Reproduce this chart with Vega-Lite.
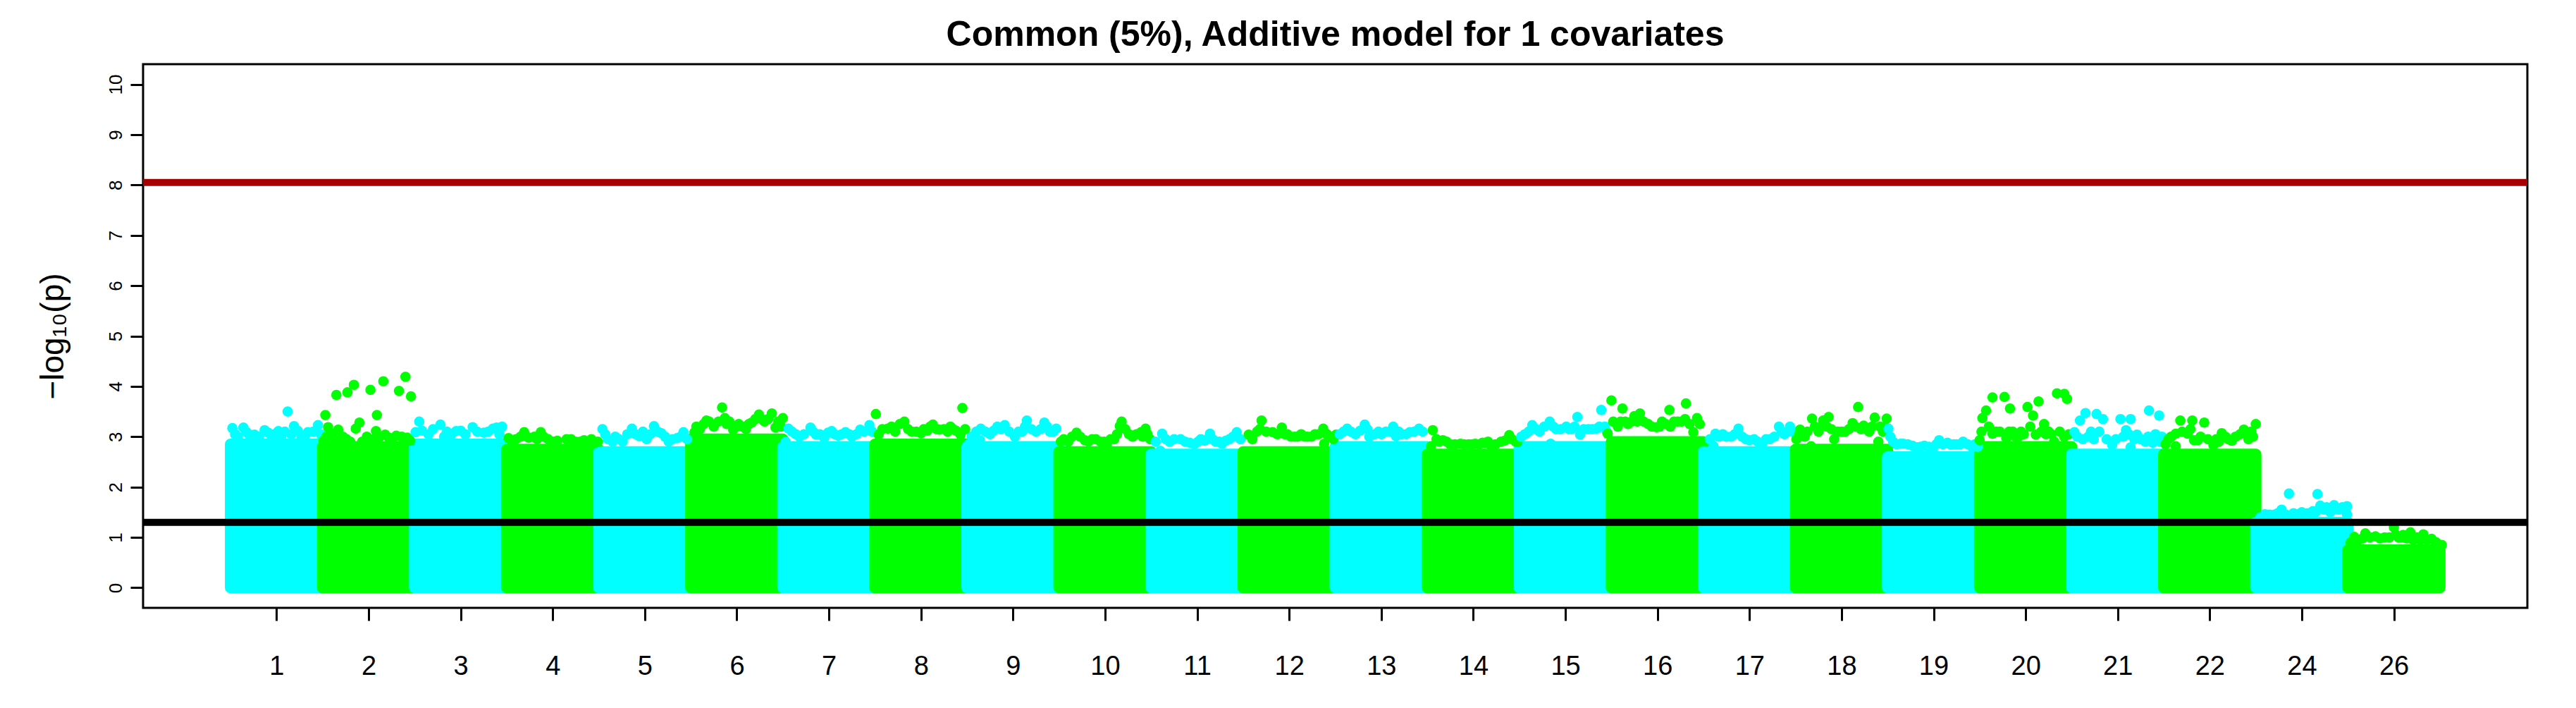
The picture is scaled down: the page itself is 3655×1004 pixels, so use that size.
{
"$schema": "https://vega.github.io/schema/vega-lite/v6.json",
"width": 3383, "height": 771,
"autosize": {"type": "none"},
"padding": {"left": 203, "top": 91, "right": 69, "bottom": 142},
"background": "white",
"config": {"view": {"stroke": "black", "strokeWidth": 3}, "font": "Liberation Sans"},
"title": {"text": "Common (5%), Additive model for 1 covariates", "fontSize": 50, "fontWeight": "bold", "font": "Liberation Sans", "color": "black", "anchor": "middle", "baseline": "alphabetic", "offset": -24},
"datasets": {
"blocks": [
{"chrom":"1","start":0.5,"end":1.5,"top":2.85,"floor":0},
{"chrom":"2","start":1.5,"end":2.5,"top":2.8,"floor":0},
{"chrom":"3","start":2.5,"end":3.5,"top":2.85,"floor":0},
{"chrom":"4","start":3.5,"end":4.5,"top":2.75,"floor":0},
{"chrom":"5","start":4.5,"end":5.5,"top":2.7,"floor":0},
{"chrom":"6","start":5.5,"end":6.5,"top":2.95,"floor":0},
{"chrom":"7","start":6.5,"end":7.5,"top":2.8,"floor":0},
{"chrom":"8","start":7.5,"end":8.5,"top":2.85,"floor":0},
{"chrom":"9","start":8.5,"end":9.5,"top":2.8,"floor":0},
{"chrom":"10","start":9.5,"end":10.5,"top":2.7,"floor":0},
{"chrom":"11","start":10.5,"end":11.5,"top":2.65,"floor":0},
{"chrom":"12","start":11.5,"end":12.5,"top":2.7,"floor":0},
{"chrom":"13","start":12.5,"end":13.5,"top":2.8,"floor":0},
{"chrom":"14","start":13.5,"end":14.5,"top":2.65,"floor":0},
{"chrom":"15","start":14.5,"end":15.5,"top":2.8,"floor":0},
{"chrom":"16","start":15.5,"end":16.5,"top":2.9,"floor":0},
{"chrom":"17","start":16.5,"end":17.5,"top":2.7,"floor":0},
{"chrom":"18","start":17.5,"end":18.5,"top":2.75,"floor":0},
{"chrom":"19","start":18.5,"end":19.5,"top":2.6,"floor":0},
{"chrom":"20","start":19.5,"end":20.5,"top":2.8,"floor":0},
{"chrom":"21","start":20.5,"end":21.5,"top":2.65,"floor":0},
{"chrom":"22","start":21.5,"end":22.5,"top":2.65,"floor":0},
{"chrom":"24","start":22.5,"end":23.5,"top":1.3,"floor":0},
{"chrom":"26","start":23.5,"end":24.5,"top":0.75,"floor":0}
],
"snps": [
{"chrom":"1","pos":0.52,"logp":3.17},{"chrom":"1","pos":0.58,"logp":3.0},{"chrom":"1","pos":0.64,"logp":3.18},{"chrom":"1","pos":0.70,"logp":3.05},{"chrom":"1","pos":0.76,"logp":3.04},{"chrom":"1","pos":0.87,"logp":3.13},{"chrom":"1","pos":0.95,"logp":2.98},{"chrom":"1","pos":1.02,"logp":3.11},{"chrom":"1","pos":1.05,"logp":3.0},{"chrom":"1","pos":1.12,"logp":3.50},{"chrom":"1","pos":1.19,"logp":3.21},{"chrom":"1","pos":1.27,"logp":3.0},{"chrom":"1","pos":1.34,"logp":3.09},{"chrom":"1","pos":1.45,"logp":3.23},
{"chrom":"1","pos":0.55,"logp":3.05},{"chrom":"1","pos":0.67,"logp":3.1},{"chrom":"1","pos":0.81,"logp":3.0},{"chrom":"1","pos":0.91,"logp":3.08},{"chrom":"1","pos":0.99,"logp":3.06},{"chrom":"1","pos":1.09,"logp":3.1},{"chrom":"1","pos":1.16,"logp":3.05},{"chrom":"1","pos":1.23,"logp":3.12},{"chrom":"1","pos":1.31,"logp":3.02},{"chrom":"1","pos":1.40,"logp":3.1},{"chrom":"1","pos":1.48,"logp":3.05},
{"chrom":"2","pos":1.65,"logp":3.83},{"chrom":"2","pos":1.77,"logp":3.88},{"chrom":"2","pos":1.84,"logp":4.03},{"chrom":"2","pos":2.02,"logp":3.93},{"chrom":"2","pos":2.16,"logp":4.10},{"chrom":"2","pos":2.40,"logp":4.19},{"chrom":"2","pos":2.33,"logp":3.91},{"chrom":"2","pos":2.46,"logp":3.80},{"chrom":"2","pos":1.53,"logp":3.43},{"chrom":"2","pos":2.09,"logp":3.43},{"chrom":"2","pos":1.90,"logp":3.28},{"chrom":"2","pos":1.86,"logp":3.16},{"chrom":"2","pos":1.56,"logp":3.19},{"chrom":"2","pos":1.67,"logp":3.14},{"chrom":"2","pos":1.59,"logp":3.07},{"chrom":"2","pos":2.08,"logp":3.11},{"chrom":"2","pos":2.18,"logp":3.04},{"chrom":"2","pos":2.36,"logp":3.00},{"chrom":"2","pos":1.80,"logp":2.90},{"chrom":"2","pos":1.93,"logp":2.90},{"chrom":"2","pos":1.68,"logp":2.90},{"chrom":"2","pos":2.25,"logp":2.95},{"chrom":"2","pos":2.45,"logp":2.92},{"chrom":"2","pos":1.51,"logp":2.92},
{"chrom":"2","pos":1.54,"logp":3.0},{"chrom":"2","pos":1.62,"logp":2.98},{"chrom":"2","pos":1.72,"logp":3.0},{"chrom":"2","pos":1.76,"logp":2.95},{"chrom":"2","pos":1.98,"logp":3.0},{"chrom":"2","pos":2.05,"logp":2.95},{"chrom":"2","pos":2.12,"logp":3.0},{"chrom":"2","pos":2.22,"logp":2.98},{"chrom":"2","pos":2.30,"logp":3.02},{"chrom":"2","pos":2.42,"logp":2.98},
{"chrom":"3","pos":2.55,"logp":3.30},{"chrom":"3","pos":2.78,"logp":3.24},{"chrom":"3","pos":2.95,"logp":3.11},{"chrom":"3","pos":3.13,"logp":3.19},{"chrom":"3","pos":3.35,"logp":3.16},{"chrom":"3","pos":2.51,"logp":3.09},{"chrom":"3","pos":3.39,"logp":3.18},{"chrom":"3","pos":2.65,"logp":3.05},{"chrom":"3","pos":3.05,"logp":3.05},{"chrom":"3","pos":3.25,"logp":3.08},{"chrom":"3","pos":3.45,"logp":3.20},
{"chrom":"3","pos":2.58,"logp":3.12},{"chrom":"3","pos":2.70,"logp":3.15},{"chrom":"3","pos":2.85,"logp":3.1},{"chrom":"3","pos":2.90,"logp":3.05},{"chrom":"3","pos":3.00,"logp":3.12},{"chrom":"3","pos":3.18,"logp":3.1},{"chrom":"3","pos":3.30,"logp":3.1},{"chrom":"3","pos":3.42,"logp":3.05},{"chrom":"3","pos":2.82,"logp":3.0},
{"chrom":"4","pos":3.52,"logp":2.97},{"chrom":"4","pos":3.69,"logp":3.09},{"chrom":"4","pos":3.87,"logp":3.09},{"chrom":"4","pos":4.01,"logp":2.90},{"chrom":"4","pos":4.15,"logp":2.95},{"chrom":"4","pos":4.34,"logp":2.93},{"chrom":"4","pos":4.49,"logp":2.90},{"chrom":"4","pos":3.80,"logp":3.00},{"chrom":"4","pos":3.60,"logp":2.95},{"chrom":"4","pos":3.95,"logp":2.95},{"chrom":"4","pos":4.25,"logp":2.90},{"chrom":"4","pos":4.42,"logp":2.95},
{"chrom":"4","pos":3.56,"logp":2.92},{"chrom":"4","pos":3.65,"logp":3.0},{"chrom":"4","pos":3.74,"logp":2.98},{"chrom":"4","pos":3.90,"logp":3.0},{"chrom":"4","pos":4.05,"logp":2.92},{"chrom":"4","pos":4.20,"logp":2.95},{"chrom":"4","pos":4.30,"logp":2.9},{"chrom":"4","pos":4.38,"logp":2.9},{"chrom":"4","pos":4.46,"logp":2.88},{"chrom":"4","pos":3.83,"logp":2.95},
{"chrom":"5","pos":4.54,"logp":3.15},{"chrom":"5","pos":4.68,"logp":3.00},{"chrom":"5","pos":4.86,"logp":3.16},{"chrom":"5","pos":4.94,"logp":3.01},{"chrom":"5","pos":5.10,"logp":3.21},{"chrom":"5","pos":5.18,"logp":3.07},{"chrom":"5","pos":5.35,"logp":2.97},{"chrom":"5","pos":5.42,"logp":3.09},{"chrom":"5","pos":4.76,"logp":2.90},{"chrom":"5","pos":5.02,"logp":2.95},{"chrom":"5","pos":5.26,"logp":2.90},{"chrom":"5","pos":4.60,"logp":2.95},
{"chrom":"5","pos":4.57,"logp":3.05},{"chrom":"5","pos":4.65,"logp":2.9},{"chrom":"5","pos":4.72,"logp":2.95},{"chrom":"5","pos":4.81,"logp":3.05},{"chrom":"5","pos":4.90,"logp":3.05},{"chrom":"5","pos":4.98,"logp":3.1},{"chrom":"5","pos":5.06,"logp":3.05},{"chrom":"5","pos":5.14,"logp":3.1},{"chrom":"5","pos":5.22,"logp":3.0},{"chrom":"5","pos":5.30,"logp":2.95},{"chrom":"5","pos":5.39,"logp":3.0},{"chrom":"5","pos":5.46,"logp":2.95},
{"chrom":"6","pos":5.54,"logp":3.09},{"chrom":"6","pos":5.67,"logp":3.32},{"chrom":"6","pos":5.84,"logp":3.58},{"chrom":"6","pos":5.87,"logp":3.37},{"chrom":"6","pos":6.02,"logp":3.25},{"chrom":"6","pos":6.24,"logp":3.44},{"chrom":"6","pos":6.38,"logp":3.46},{"chrom":"6","pos":6.50,"logp":3.37},{"chrom":"6","pos":6.16,"logp":3.28},{"chrom":"6","pos":5.96,"logp":3.14},{"chrom":"6","pos":6.42,"logp":3.18},{"chrom":"6","pos":5.60,"logp":3.15},{"chrom":"6","pos":5.75,"logp":3.20},{"chrom":"6","pos":6.10,"logp":3.15},{"chrom":"6","pos":6.30,"logp":3.30},{"chrom":"6","pos":5.92,"logp":3.30},
{"chrom":"6","pos":5.56,"logp":3.2},{"chrom":"6","pos":5.64,"logp":3.25},{"chrom":"6","pos":5.70,"logp":3.3},{"chrom":"6","pos":5.80,"logp":3.3},{"chrom":"6","pos":5.89,"logp":3.25},{"chrom":"6","pos":6.00,"logp":3.2},{"chrom":"6","pos":6.06,"logp":3.2},{"chrom":"6","pos":6.13,"logp":3.25},{"chrom":"6","pos":6.20,"logp":3.35},{"chrom":"6","pos":6.27,"logp":3.35},{"chrom":"6","pos":6.34,"logp":3.35},{"chrom":"6","pos":6.45,"logp":3.3},{"chrom":"6","pos":6.48,"logp":3.2},
{"chrom":"7","pos":6.56,"logp":3.16},{"chrom":"7","pos":6.80,"logp":3.18},{"chrom":"7","pos":7.03,"logp":3.11},{"chrom":"7","pos":7.18,"logp":3.09},{"chrom":"7","pos":7.34,"logp":3.14},{"chrom":"7","pos":7.44,"logp":3.23},{"chrom":"7","pos":6.53,"logp":2.90},{"chrom":"7","pos":6.86,"logp":3.04},{"chrom":"7","pos":6.68,"logp":3.00},{"chrom":"7","pos":6.95,"logp":2.98},{"chrom":"7","pos":7.25,"logp":3.00},{"chrom":"7","pos":7.10,"logp":3.02},
{"chrom":"7","pos":6.60,"logp":3.1},{"chrom":"7","pos":6.64,"logp":3.05},{"chrom":"7","pos":6.73,"logp":3.05},{"chrom":"7","pos":6.83,"logp":3.1},{"chrom":"7","pos":6.90,"logp":3.05},{"chrom":"7","pos":6.99,"logp":3.08},{"chrom":"7","pos":7.06,"logp":3.05},{"chrom":"7","pos":7.14,"logp":3.05},{"chrom":"7","pos":7.22,"logp":3.05},{"chrom":"7","pos":7.30,"logp":3.05},{"chrom":"7","pos":7.38,"logp":3.1},{"chrom":"7","pos":7.47,"logp":3.1},
{"chrom":"8","pos":7.51,"logp":3.45},{"chrom":"8","pos":7.54,"logp":3.04},{"chrom":"8","pos":7.64,"logp":3.16},{"chrom":"8","pos":7.82,"logp":3.30},{"chrom":"8","pos":8.00,"logp":3.07},{"chrom":"8","pos":8.13,"logp":3.24},{"chrom":"8","pos":8.32,"logp":3.20},{"chrom":"8","pos":8.45,"logp":3.57},{"chrom":"8","pos":8.43,"logp":3.04},{"chrom":"8","pos":8.20,"logp":3.14},{"chrom":"8","pos":7.72,"logp":3.10},{"chrom":"8","pos":7.90,"logp":3.10},{"chrom":"8","pos":8.07,"logp":3.12},{"chrom":"8","pos":8.38,"logp":3.12},
{"chrom":"8","pos":7.58,"logp":3.15},{"chrom":"8","pos":7.68,"logp":3.2},{"chrom":"8","pos":7.77,"logp":3.25},{"chrom":"8","pos":7.86,"logp":3.15},{"chrom":"8","pos":7.95,"logp":3.1},{"chrom":"8","pos":8.03,"logp":3.15},{"chrom":"8","pos":8.10,"logp":3.2},{"chrom":"8","pos":8.17,"logp":3.15},{"chrom":"8","pos":8.25,"logp":3.15},{"chrom":"8","pos":8.29,"logp":3.1},{"chrom":"8","pos":8.35,"logp":3.15},{"chrom":"8","pos":8.48,"logp":3.15},
{"chrom":"9","pos":8.51,"logp":2.84},{"chrom":"9","pos":8.65,"logp":3.16},{"chrom":"9","pos":8.83,"logp":3.20},{"chrom":"9","pos":8.91,"logp":3.23},{"chrom":"9","pos":9.02,"logp":3.00},{"chrom":"9","pos":9.15,"logp":3.32},{"chrom":"9","pos":9.34,"logp":3.28},{"chrom":"9","pos":9.47,"logp":3.16},{"chrom":"9","pos":8.64,"logp":2.93},{"chrom":"9","pos":8.75,"logp":3.05},{"chrom":"9","pos":9.10,"logp":3.10},{"chrom":"9","pos":9.25,"logp":3.10},{"chrom":"9","pos":9.40,"logp":3.10},
{"chrom":"9","pos":8.55,"logp":3.0},{"chrom":"9","pos":8.60,"logp":3.1},{"chrom":"9","pos":8.70,"logp":3.1},{"chrom":"9","pos":8.79,"logp":3.12},{"chrom":"9","pos":8.87,"logp":3.15},{"chrom":"9","pos":8.96,"logp":3.1},{"chrom":"9","pos":9.06,"logp":3.1},{"chrom":"9","pos":9.13,"logp":3.2},{"chrom":"9","pos":9.20,"logp":3.15},{"chrom":"9","pos":9.30,"logp":3.15},{"chrom":"9","pos":9.37,"logp":3.2},{"chrom":"9","pos":9.44,"logp":3.1},
{"chrom":"10","pos":9.52,"logp":2.90},{"chrom":"10","pos":9.69,"logp":3.08},{"chrom":"10","pos":9.86,"logp":2.95},{"chrom":"10","pos":10.18,"logp":3.30},{"chrom":"10","pos":10.16,"logp":3.21},{"chrom":"10","pos":10.39,"logp":3.09},{"chrom":"10","pos":10.44,"logp":3.16},{"chrom":"10","pos":10.49,"logp":2.95},{"chrom":"10","pos":10.02,"logp":2.86},{"chrom":"10","pos":9.60,"logp":2.90},{"chrom":"10","pos":9.78,"logp":2.93},{"chrom":"10","pos":9.95,"logp":2.90},{"chrom":"10","pos":10.10,"logp":2.95},{"chrom":"10","pos":10.30,"logp":3.00},
{"chrom":"10","pos":9.55,"logp":2.95},{"chrom":"10","pos":9.64,"logp":3.0},{"chrom":"10","pos":9.73,"logp":3.0},{"chrom":"10","pos":9.82,"logp":2.9},{"chrom":"10","pos":9.90,"logp":2.95},{"chrom":"10","pos":9.99,"logp":2.9},{"chrom":"10","pos":10.06,"logp":2.95},{"chrom":"10","pos":10.13,"logp":3.05},{"chrom":"10","pos":10.22,"logp":3.15},{"chrom":"10","pos":10.26,"logp":3.05},{"chrom":"10","pos":10.34,"logp":3.05},{"chrom":"10","pos":10.41,"logp":3.0},{"chrom":"10","pos":10.46,"logp":3.05},
{"chrom":"11","pos":10.62,"logp":3.06},{"chrom":"11","pos":10.82,"logp":2.95},{"chrom":"11","pos":11.01,"logp":2.90},{"chrom":"11","pos":11.14,"logp":3.06},{"chrom":"11","pos":11.43,"logp":3.09},{"chrom":"11","pos":11.27,"logp":2.86},{"chrom":"11","pos":10.60,"logp":2.72},{"chrom":"11","pos":10.70,"logp":2.90},{"chrom":"11","pos":10.92,"logp":2.88},{"chrom":"11","pos":11.08,"logp":2.92},{"chrom":"11","pos":11.35,"logp":2.95},{"chrom":"11","pos":11.20,"logp":2.90},
{"chrom":"11","pos":10.55,"logp":2.9},{"chrom":"11","pos":10.66,"logp":2.95},{"chrom":"11","pos":10.75,"logp":2.95},{"chrom":"11","pos":10.87,"logp":2.9},{"chrom":"11","pos":10.97,"logp":2.85},{"chrom":"11","pos":11.04,"logp":2.95},{"chrom":"11","pos":11.11,"logp":2.95},{"chrom":"11","pos":11.17,"logp":2.95},{"chrom":"11","pos":11.24,"logp":2.9},{"chrom":"11","pos":11.31,"logp":2.92},{"chrom":"11","pos":11.39,"logp":3.0},{"chrom":"11","pos":11.47,"logp":2.95},
{"chrom":"12","pos":11.56,"logp":3.04},{"chrom":"12","pos":11.70,"logp":3.32},{"chrom":"12","pos":11.82,"logp":3.09},{"chrom":"12","pos":11.92,"logp":3.18},{"chrom":"12","pos":12.06,"logp":3.00},{"chrom":"12","pos":12.20,"logp":3.00},{"chrom":"12","pos":12.37,"logp":3.16},{"chrom":"12","pos":12.51,"logp":3.04},{"chrom":"12","pos":11.55,"logp":2.67},{"chrom":"12","pos":12.38,"logp":2.86},{"chrom":"12","pos":11.65,"logp":3.10},{"chrom":"12","pos":11.98,"logp":3.05},{"chrom":"12","pos":12.13,"logp":3.05},{"chrom":"12","pos":12.28,"logp":3.05},{"chrom":"12","pos":12.45,"logp":3.00},
{"chrom":"12","pos":11.60,"logp":2.95},{"chrom":"12","pos":11.68,"logp":3.15},{"chrom":"12","pos":11.75,"logp":3.1},{"chrom":"12","pos":11.87,"logp":3.05},{"chrom":"12","pos":11.95,"logp":3.05},{"chrom":"12","pos":12.02,"logp":3.0},{"chrom":"12","pos":12.09,"logp":3.0},{"chrom":"12","pos":12.17,"logp":3.0},{"chrom":"12","pos":12.24,"logp":3.0},{"chrom":"12","pos":12.32,"logp":3.05},{"chrom":"12","pos":12.41,"logp":3.05},{"chrom":"12","pos":12.48,"logp":2.95},
{"chrom":"13","pos":12.63,"logp":3.16},{"chrom":"13","pos":12.82,"logp":3.24},{"chrom":"13","pos":13.13,"logp":3.20},{"chrom":"13","pos":13.16,"logp":3.01},{"chrom":"13","pos":13.31,"logp":3.09},{"chrom":"13","pos":13.41,"logp":3.16},{"chrom":"13","pos":12.87,"logp":3.00},{"chrom":"13","pos":12.72,"logp":3.05},{"chrom":"13","pos":13.00,"logp":3.05},{"chrom":"13","pos":13.22,"logp":3.05},{"chrom":"13","pos":12.55,"logp":3.05},
{"chrom":"13","pos":12.59,"logp":3.1},{"chrom":"13","pos":12.67,"logp":3.1},{"chrom":"13","pos":12.77,"logp":3.12},{"chrom":"13","pos":12.85,"logp":3.15},{"chrom":"13","pos":12.93,"logp":3.05},{"chrom":"13","pos":12.97,"logp":3.1},{"chrom":"13","pos":13.05,"logp":3.1},{"chrom":"13","pos":13.10,"logp":3.1},{"chrom":"13","pos":13.19,"logp":3.1},{"chrom":"13","pos":13.27,"logp":3.05},{"chrom":"13","pos":13.36,"logp":3.1},{"chrom":"13","pos":13.45,"logp":3.1},
{"chrom":"14","pos":13.56,"logp":3.13},{"chrom":"14","pos":13.67,"logp":2.93},{"chrom":"14","pos":13.86,"logp":2.86},{"chrom":"14","pos":14.02,"logp":2.86},{"chrom":"14","pos":14.16,"logp":2.90},{"chrom":"14","pos":14.39,"logp":3.03},{"chrom":"14","pos":13.54,"logp":2.81},{"chrom":"14","pos":14.20,"logp":2.79},{"chrom":"14","pos":13.75,"logp":2.85},{"chrom":"14","pos":13.95,"logp":2.85},{"chrom":"14","pos":14.10,"logp":2.88},{"chrom":"14","pos":14.30,"logp":2.90},{"chrom":"14","pos":14.46,"logp":2.90},
{"chrom":"14","pos":13.60,"logp":2.95},{"chrom":"14","pos":13.63,"logp":2.9},{"chrom":"14","pos":13.71,"logp":2.9},{"chrom":"14","pos":13.80,"logp":2.85},{"chrom":"14","pos":13.90,"logp":2.85},{"chrom":"14","pos":13.99,"logp":2.85},{"chrom":"14","pos":14.06,"logp":2.85},{"chrom":"14","pos":14.13,"logp":2.88},{"chrom":"14","pos":14.24,"logp":2.85},{"chrom":"14","pos":14.34,"logp":2.92},{"chrom":"14","pos":14.42,"logp":2.95},{"chrom":"14","pos":14.48,"logp":2.9},
{"chrom":"15","pos":14.52,"logp":3.00},{"chrom":"15","pos":14.64,"logp":3.23},{"chrom":"15","pos":14.83,"logp":3.30},{"chrom":"15","pos":15.01,"logp":3.20},{"chrom":"15","pos":15.13,"logp":3.39},{"chrom":"15","pos":15.39,"logp":3.53},{"chrom":"15","pos":15.34,"logp":3.16},{"chrom":"15","pos":15.16,"logp":3.04},{"chrom":"15","pos":14.84,"logp":2.86},{"chrom":"15","pos":14.72,"logp":3.10},{"chrom":"15","pos":14.90,"logp":3.15},{"chrom":"15","pos":15.07,"logp":3.15},{"chrom":"15","pos":15.25,"logp":3.15},{"chrom":"15","pos":15.45,"logp":3.10},
{"chrom":"15","pos":14.56,"logp":3.05},{"chrom":"15","pos":14.60,"logp":3.1},{"chrom":"15","pos":14.68,"logp":3.15},{"chrom":"15","pos":14.77,"logp":3.2},{"chrom":"15","pos":14.87,"logp":3.2},{"chrom":"15","pos":14.95,"logp":3.15},{"chrom":"15","pos":15.04,"logp":3.15},{"chrom":"15","pos":15.10,"logp":3.2},{"chrom":"15","pos":15.20,"logp":3.15},{"chrom":"15","pos":15.29,"logp":3.15},{"chrom":"15","pos":15.37,"logp":3.2},{"chrom":"15","pos":15.43,"logp":3.2},
{"chrom":"16","pos":15.50,"logp":3.72},{"chrom":"16","pos":15.62,"logp":3.56},{"chrom":"16","pos":15.57,"logp":3.20},{"chrom":"16","pos":15.46,"logp":3.06},{"chrom":"16","pos":15.75,"logp":3.41},{"chrom":"16","pos":15.81,"logp":3.46},{"chrom":"16","pos":16.13,"logp":3.53},{"chrom":"16","pos":16.31,"logp":3.66},{"chrom":"16","pos":16.43,"logp":3.37},{"chrom":"16","pos":16.30,"logp":3.35},{"chrom":"16","pos":15.99,"logp":3.19},{"chrom":"16","pos":16.14,"logp":3.20},{"chrom":"16","pos":16.39,"logp":3.09},{"chrom":"16","pos":15.90,"logp":3.25},{"chrom":"16","pos":16.05,"logp":3.30},{"chrom":"16","pos":16.22,"logp":3.30},{"chrom":"16","pos":15.68,"logp":3.25},
{"chrom":"16","pos":15.52,"logp":3.3},{"chrom":"16","pos":15.60,"logp":3.3},{"chrom":"16","pos":15.65,"logp":3.3},{"chrom":"16","pos":15.72,"logp":3.3},{"chrom":"16","pos":15.78,"logp":3.3},{"chrom":"16","pos":15.85,"logp":3.3},{"chrom":"16","pos":15.94,"logp":3.2},{"chrom":"16","pos":16.02,"logp":3.2},{"chrom":"16","pos":16.09,"logp":3.25},{"chrom":"16","pos":16.18,"logp":3.3},{"chrom":"16","pos":16.26,"logp":3.3},{"chrom":"16","pos":16.35,"logp":3.25},{"chrom":"16","pos":16.46,"logp":3.25},
{"chrom":"17","pos":16.63,"logp":3.06},{"chrom":"17","pos":16.75,"logp":3.00},{"chrom":"17","pos":16.88,"logp":3.16},{"chrom":"17","pos":17.00,"logp":2.93},{"chrom":"17","pos":17.14,"logp":2.86},{"chrom":"17","pos":17.32,"logp":3.20},{"chrom":"17","pos":17.44,"logp":3.20},{"chrom":"17","pos":16.61,"logp":2.81},{"chrom":"17","pos":16.80,"logp":3.00},{"chrom":"17","pos":17.05,"logp":2.95},{"chrom":"17","pos":17.22,"logp":2.95},{"chrom":"17","pos":17.38,"logp":3.05},
{"chrom":"17","pos":16.57,"logp":2.95},{"chrom":"17","pos":16.67,"logp":3.0},{"chrom":"17","pos":16.71,"logp":3.05},{"chrom":"17","pos":16.84,"logp":3.05},{"chrom":"17","pos":16.92,"logp":3.0},{"chrom":"17","pos":16.96,"logp":2.95},{"chrom":"17","pos":17.09,"logp":2.9},{"chrom":"17","pos":17.18,"logp":2.95},{"chrom":"17","pos":17.27,"logp":3.0},{"chrom":"17","pos":17.35,"logp":3.1},{"chrom":"17","pos":17.41,"logp":3.1},{"chrom":"17","pos":17.47,"logp":3.1},
{"chrom":"18","pos":17.55,"logp":3.14},{"chrom":"18","pos":17.51,"logp":2.95},{"chrom":"18","pos":17.68,"logp":3.36},{"chrom":"18","pos":17.80,"logp":3.32},{"chrom":"18","pos":17.86,"logp":3.39},{"chrom":"18","pos":18.18,"logp":3.59},{"chrom":"18","pos":18.12,"logp":3.27},{"chrom":"18","pos":18.24,"logp":3.22},{"chrom":"18","pos":18.36,"logp":3.38},{"chrom":"18","pos":18.49,"logp":3.36},{"chrom":"18","pos":17.67,"logp":2.81},{"chrom":"18","pos":17.92,"logp":2.95},{"chrom":"18","pos":18.40,"logp":2.90},{"chrom":"18","pos":17.60,"logp":3.00},{"chrom":"18","pos":17.75,"logp":3.10},{"chrom":"18","pos":18.00,"logp":3.10},{"chrom":"18","pos":18.30,"logp":3.10},{"chrom":"18","pos":18.45,"logp":3.10},
{"chrom":"18","pos":17.54,"logp":3.05},{"chrom":"18","pos":17.63,"logp":3.1},{"chrom":"18","pos":17.71,"logp":3.2},{"chrom":"18","pos":17.78,"logp":3.2},{"chrom":"18","pos":17.84,"logp":3.2},{"chrom":"18","pos":17.89,"logp":3.15},{"chrom":"18","pos":17.96,"logp":3.1},{"chrom":"18","pos":18.04,"logp":3.1},{"chrom":"18","pos":18.08,"logp":3.15},{"chrom":"18","pos":18.15,"logp":3.2},{"chrom":"18","pos":18.21,"logp":3.15},{"chrom":"18","pos":18.27,"logp":3.15},{"chrom":"18","pos":18.33,"logp":3.2},{"chrom":"18","pos":18.42,"logp":3.2},{"chrom":"18","pos":18.47,"logp":3.2},
{"chrom":"19","pos":18.51,"logp":3.16},{"chrom":"19","pos":18.53,"logp":3.00},{"chrom":"19","pos":18.64,"logp":2.86},{"chrom":"19","pos":18.67,"logp":2.86},{"chrom":"19","pos":18.82,"logp":2.79},{"chrom":"19","pos":19.06,"logp":2.93},{"chrom":"19","pos":19.19,"logp":2.84},{"chrom":"19","pos":19.32,"logp":2.90},{"chrom":"19","pos":19.42,"logp":2.79},{"chrom":"19","pos":18.99,"logp":2.74},{"chrom":"19","pos":18.90,"logp":2.82},{"chrom":"19","pos":19.25,"logp":2.85},{"chrom":"19","pos":19.48,"logp":2.80},
{"chrom":"19","pos":18.56,"logp":2.9},{"chrom":"19","pos":18.60,"logp":2.85},{"chrom":"19","pos":18.72,"logp":2.85},{"chrom":"19","pos":18.77,"logp":2.82},{"chrom":"19","pos":18.86,"logp":2.8},{"chrom":"19","pos":18.95,"logp":2.8},{"chrom":"19","pos":19.03,"logp":2.85},{"chrom":"19","pos":19.10,"logp":2.85},{"chrom":"19","pos":19.15,"logp":2.88},{"chrom":"19","pos":19.22,"logp":2.85},{"chrom":"19","pos":19.29,"logp":2.85},{"chrom":"19","pos":19.37,"logp":2.85},{"chrom":"19","pos":19.45,"logp":2.85},
{"chrom":"20","pos":19.53,"logp":3.37},{"chrom":"20","pos":19.57,"logp":3.52},{"chrom":"20","pos":19.64,"logp":3.78},{"chrom":"20","pos":19.77,"logp":3.79},{"chrom":"20","pos":19.83,"logp":3.56},{"chrom":"20","pos":20.02,"logp":3.59},{"chrom":"20","pos":20.14,"logp":3.70},{"chrom":"20","pos":20.08,"logp":3.42},{"chrom":"20","pos":20.20,"logp":3.25},{"chrom":"20","pos":20.34,"logp":3.86},{"chrom":"20","pos":20.42,"logp":3.85},{"chrom":"20","pos":20.45,"logp":3.75},{"chrom":"20","pos":19.50,"logp":2.93},{"chrom":"20","pos":19.64,"logp":3.06},{"chrom":"20","pos":19.79,"logp":2.97},{"chrom":"20","pos":19.89,"logp":3.00},{"chrom":"20","pos":20.11,"logp":3.04},{"chrom":"20","pos":20.31,"logp":2.90},{"chrom":"20","pos":20.42,"logp":3.00},{"chrom":"20","pos":19.95,"logp":3.10},{"chrom":"20","pos":20.25,"logp":3.10},
{"chrom":"20","pos":19.52,"logp":3.1},{"chrom":"20","pos":19.60,"logp":3.2},{"chrom":"20","pos":19.68,"logp":3.1},{"chrom":"20","pos":19.72,"logp":3.1},{"chrom":"20","pos":19.82,"logp":3.1},{"chrom":"20","pos":19.86,"logp":3.1},{"chrom":"20","pos":19.92,"logp":3.0},{"chrom":"20","pos":19.98,"logp":3.05},{"chrom":"20","pos":20.05,"logp":3.2},{"chrom":"20","pos":20.17,"logp":3.1},{"chrom":"20","pos":20.22,"logp":3.05},{"chrom":"20","pos":20.28,"logp":3.05},{"chrom":"20","pos":20.37,"logp":3.1},{"chrom":"20","pos":20.47,"logp":3.05},
{"chrom":"21","pos":20.53,"logp":3.09},{"chrom":"21","pos":20.59,"logp":3.32},{"chrom":"21","pos":20.65,"logp":3.47},{"chrom":"21","pos":20.77,"logp":3.45},{"chrom":"21","pos":20.84,"logp":3.35},{"chrom":"21","pos":21.03,"logp":3.35},{"chrom":"21","pos":21.14,"logp":3.35},{"chrom":"21","pos":21.09,"logp":3.13},{"chrom":"21","pos":21.21,"logp":3.04},{"chrom":"21","pos":21.34,"logp":3.52},{"chrom":"21","pos":21.45,"logp":3.42},{"chrom":"21","pos":20.74,"logp":2.95},{"chrom":"21","pos":20.94,"logp":2.84},{"chrom":"21","pos":21.38,"logp":2.88},{"chrom":"21","pos":21.14,"logp":2.79},{"chrom":"21","pos":20.62,"logp":2.95},{"chrom":"21","pos":21.30,"logp":2.90},{"chrom":"21","pos":21.46,"logp":2.90},
{"chrom":"21","pos":20.56,"logp":3.0},{"chrom":"21","pos":20.68,"logp":3.0},{"chrom":"21","pos":20.71,"logp":3.1},{"chrom":"21","pos":20.80,"logp":3.1},{"chrom":"21","pos":20.88,"logp":2.95},{"chrom":"21","pos":20.98,"logp":2.95},{"chrom":"21","pos":21.06,"logp":3.0},{"chrom":"21","pos":21.12,"logp":3.05},{"chrom":"21","pos":21.18,"logp":2.95},{"chrom":"21","pos":21.25,"logp":2.95},{"chrom":"21","pos":21.33,"logp":3.0},{"chrom":"21","pos":21.41,"logp":3.05},{"chrom":"21","pos":21.48,"logp":3.0},
{"chrom":"22","pos":21.63,"logp":3.06},{"chrom":"22","pos":21.68,"logp":3.32},{"chrom":"22","pos":21.81,"logp":3.32},{"chrom":"22","pos":21.76,"logp":3.06},{"chrom":"22","pos":21.83,"logp":2.93},{"chrom":"22","pos":21.63,"logp":2.81},{"chrom":"22","pos":21.94,"logp":3.28},{"chrom":"22","pos":21.87,"logp":2.93},{"chrom":"22","pos":22.13,"logp":3.07},{"chrom":"22","pos":22.37,"logp":3.14},{"chrom":"22","pos":22.50,"logp":3.25},{"chrom":"22","pos":22.04,"logp":2.83},{"chrom":"22","pos":22.42,"logp":2.95},{"chrom":"22","pos":21.55,"logp":2.95},{"chrom":"22","pos":22.20,"logp":2.95},{"chrom":"22","pos":22.28,"logp":3.00},{"chrom":"22","pos":22.47,"logp":3.00},
{"chrom":"22","pos":21.52,"logp":2.85},{"chrom":"22","pos":21.58,"logp":3.0},{"chrom":"22","pos":21.70,"logp":3.1},{"chrom":"22","pos":21.79,"logp":3.15},{"chrom":"22","pos":21.90,"logp":3.0},{"chrom":"22","pos":21.98,"logp":2.95},{"chrom":"22","pos":22.07,"logp":2.95},{"chrom":"22","pos":22.10,"logp":2.9},{"chrom":"22","pos":22.17,"logp":3.0},{"chrom":"22","pos":22.24,"logp":2.92},{"chrom":"22","pos":22.33,"logp":3.05},{"chrom":"22","pos":22.40,"logp":3.05},{"chrom":"22","pos":22.45,"logp":3.1},
{"chrom":"24","pos":22.60,"logp":1.46},{"chrom":"24","pos":22.78,"logp":1.55},{"chrom":"24","pos":22.91,"logp":1.48},{"chrom":"24","pos":22.86,"logp":1.87},{"chrom":"24","pos":23.17,"logp":1.86},{"chrom":"24","pos":23.06,"logp":1.48},{"chrom":"24","pos":23.20,"logp":1.63},{"chrom":"24","pos":23.35,"logp":1.64},{"chrom":"24","pos":23.49,"logp":1.62},{"chrom":"24","pos":23.49,"logp":1.46},{"chrom":"24","pos":23.31,"logp":1.50},{"chrom":"24","pos":22.70,"logp":1.45},{"chrom":"24","pos":23.00,"logp":1.50},{"chrom":"24","pos":23.12,"logp":1.52},
{"chrom":"24","pos":22.55,"logp":1.4},{"chrom":"24","pos":22.65,"logp":1.45},{"chrom":"24","pos":22.74,"logp":1.48},{"chrom":"24","pos":22.83,"logp":1.45},{"chrom":"24","pos":22.96,"logp":1.46},{"chrom":"24","pos":23.03,"logp":1.45},{"chrom":"24","pos":23.09,"logp":1.45},{"chrom":"24","pos":23.15,"logp":1.5},{"chrom":"24","pos":23.24,"logp":1.55},{"chrom":"24","pos":23.27,"logp":1.6},{"chrom":"24","pos":23.40,"logp":1.55},{"chrom":"24","pos":23.44,"logp":1.6},
{"chrom":"26","pos":23.57,"logp":1.01},{"chrom":"26","pos":23.69,"logp":1.08},{"chrom":"26","pos":24.00,"logp":1.20},{"chrom":"26","pos":24.18,"logp":1.10},{"chrom":"26","pos":24.32,"logp":1.06},{"chrom":"26","pos":24.41,"logp":0.97},{"chrom":"26","pos":24.52,"logp":0.85},{"chrom":"26","pos":23.90,"logp":1.00},{"chrom":"26","pos":24.05,"logp":1.00},{"chrom":"26","pos":23.80,"logp":1.02},{"chrom":"26","pos":24.10,"logp":1.05},{"chrom":"26","pos":24.25,"logp":1.00},{"chrom":"26","pos":23.62,"logp":0.95},
{"chrom":"26","pos":23.53,"logp":0.9},{"chrom":"26","pos":23.60,"logp":0.95},{"chrom":"26","pos":23.66,"logp":0.98},{"chrom":"26","pos":23.74,"logp":1.0},{"chrom":"26","pos":23.85,"logp":0.98},{"chrom":"26","pos":23.95,"logp":1.0},{"chrom":"26","pos":24.02,"logp":1.05},{"chrom":"26","pos":24.08,"logp":1.0},{"chrom":"26","pos":24.14,"logp":0.98},{"chrom":"26","pos":24.21,"logp":0.95},{"chrom":"26","pos":24.29,"logp":0.95},{"chrom":"26","pos":24.36,"logp":0.95},{"chrom":"26","pos":24.46,"logp":0.9}
],
"thresholds": [{"name":"suggestive","logp":1.30},{"name":"genomewide","logp":8.05}]
},
"layer": [
{"data": {"name": "blocks"},
 "mark": {"type": "rect", "strokeWidth": 16, "strokeJoin": "round"},
 "encoding": {
  "x": {"field": "start", "type": "quantitative",
        "scale": {"domain": [-0.45, 25.45], "nice": false, "zero": false},
        "axis": {"values": [1,2,3,4,5,6,7,8,9,10,11,12,13,14,15,16,17,18,19,20,21,22,23,24], "format": "d",
                 "labelExpr": "datum.value == 23 ? '24' : (datum.value == 24 ? '26' : datum.label)",
                 "title": null, "domain": false, "grid": false, "tickSize": 18, "tickWidth": 3, "tickColor": "black",
                 "labelFontSize": 38, "labelColor": "black", "labelPadding": 46, "labelAngle": 0,
                 "labelOverlap": false, "labelFlush": false, "labelFont": "Liberation Sans"}},
  "x2": {"field": "end"},
  "y": {"field": "floor", "type": "quantitative",
        "scale": {"domain": [-0.4, 10.4], "nice": false, "zero": false},
        "axis": {"values": [0,1,2,3,4,5,6,7,8,9,10], "format": "d", "title": "−log₁₀(p)",
                 "domain": false, "grid": false, "tickSize": 18, "tickWidth": 3, "tickColor": "black",
                 "labelFontSize": 26, "labelColor": "black", "labelPadding": 8, "labelAngle": 270,
                 "labelAlign": "center", "labelBaseline": "bottom", "labelFont": "Liberation Sans",
                 "titleFontSize": 46, "titleFontWeight": "normal", "titleColor": "black", "titleFont": "Liberation Sans",
                 "titleAngle": 270, "titleX": -128, "titleY": 385.5, "titleAlign": "center", "titleBaseline": "middle"}},
  "y2": {"field": "top"},
  "fill": {"field": "chrom", "type": "nominal", "legend": null,
           "scale": {"domain": ["1","2","3","4","5","6","7","8","9","10","11","12","13","14","15","16","17","18","19","20","21","22","24","26"],
                     "range": ["#00ffff","#00ff00","#00ffff","#00ff00","#00ffff","#00ff00","#00ffff","#00ff00","#00ffff","#00ff00","#00ffff","#00ff00","#00ffff","#00ff00","#00ffff","#00ff00","#00ffff","#00ff00","#00ffff","#00ff00","#00ffff","#00ff00","#00ffff","#00ff00"]}},
  "stroke": {"field": "chrom", "type": "nominal", "legend": null,
           "scale": {"domain": ["1","2","3","4","5","6","7","8","9","10","11","12","13","14","15","16","17","18","19","20","21","22","24","26"],
                     "range": ["#00ffff","#00ff00","#00ffff","#00ff00","#00ffff","#00ff00","#00ffff","#00ff00","#00ffff","#00ff00","#00ffff","#00ff00","#00ffff","#00ff00","#00ffff","#00ff00","#00ffff","#00ff00","#00ffff","#00ff00","#00ffff","#00ff00","#00ffff","#00ff00"]}}
 }},
{"data": {"name": "snps"},
 "mark": {"type": "circle", "size": 215, "opacity": 1},
 "encoding": {
  "x": {"field": "pos", "type": "quantitative"},
  "y": {"field": "logp", "type": "quantitative"},
  "fill": {"field": "chrom", "type": "nominal", "legend": null}
 }},
{"data": {"name": "thresholds"},
 "transform": [{"filter": "datum.name == 'suggestive'"}],
 "mark": {"type": "rule", "strokeWidth": 10, "color": "black"},
 "encoding": {"y": {"field": "logp", "type": "quantitative"}}},
{"data": {"name": "thresholds"},
 "transform": [{"filter": "datum.name == 'genomewide'"}],
 "mark": {"type": "rule", "strokeWidth": 10, "color": "#a80000"},
 "encoding": {"y": {"field": "logp", "type": "quantitative"}}}
]
}
